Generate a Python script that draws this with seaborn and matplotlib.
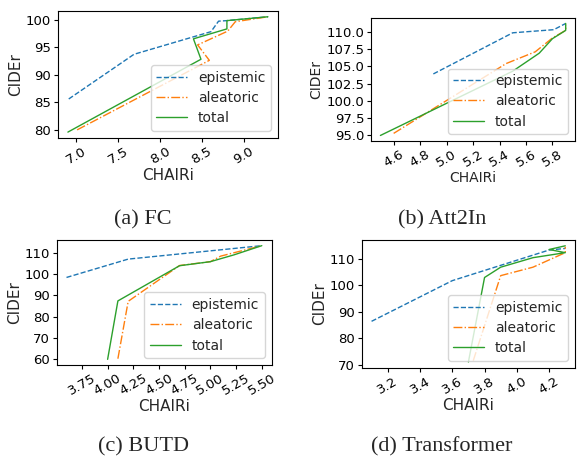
import matplotlib
matplotlib.use('Agg')
import matplotlib.pyplot as plt
from matplotlib.ticker import MultipleLocator, StrMethodFormatter
import seaborn as sns

sns.set_style('ticks')
plt.rcParams['font.family'] = ['DejaVu Sans']

# (a) FC
fc_epi_x = [6.91, 7.69, 8.61, 8.7, 8.8, 9.29]
fc_epi_y = [85.6, 93.7, 97.8, 99.7, 99.8, 100.5]
fc_ale_x = [7.01, 8.59, 8.45, 8.81, 8.9, 9.29]
fc_ale_y = [80.0, 92.6, 95.4, 97.9, 99.6, 100.5]
fc_tot_x = [6.9, 8.49, 8.4, 8.8, 8.8, 9.29]
fc_tot_y = [79.6, 92.8, 96.5, 98.3, 99.8, 100.5]

# (b) Att2In
at_epi_x = [4.9, 5.5, 5.81, 5.9]
at_epi_y = [103.9, 109.85, 110.3, 111.2]
at_ale_x = [4.6, 5.45, 5.67, 5.8, 5.9, 5.9]
at_ale_y = [95.3, 105.4, 107.1, 109.1, 110.2, 111.0]
at_tot_x = [4.5, 5.5, 5.7, 5.8, 5.9, 5.9]
at_tot_y = [95.0, 104.3, 106.9, 109.0, 110.2, 111.2]

# (c) BUTD
bu_epi_x = [3.6, 4.2, 5.5]
bu_epi_y = [98.4, 107.0, 113.3]
bu_ale_x = [4.1, 4.2, 4.7, 5.0, 5.1, 5.5]
bu_ale_y = [60.3, 87.2, 104.0, 105.8, 108.4, 113.3]
bu_tot_x = [4.0, 4.1, 4.7, 5.0, 5.23, 5.5]
bu_tot_y = [60.0, 87.4, 103.9, 105.8, 109.0, 113.3]

# (d) Transformer
tr_epi_x = [3.1, 3.6, 4.2, 4.3]
tr_epi_y = [86.4, 101.8, 113.4, 114.0]
tr_ale_x = [3.73, 3.9, 4.1, 4.3, 4.3]
tr_ale_y = [71.5, 103.7, 106.9, 112.4, 114.6]
tr_tot_x = [3.7, 3.8, 3.9, 4.1, 4.3, 4.2, 4.3]
tr_tot_y = [71.0, 103.0, 106.9, 110.5, 112.4, 113.6, 115.0]

panels = [
    ('(a) FC', [0.100, 0.699, 0.380, 0.277], (143, 220),
     (fc_epi_x, fc_epi_y), (fc_ale_x, fc_ale_y), (fc_tot_x, fc_tot_y),
     0.5, 5, '{x:.1f}', '{x:.0f}', 11),
    ('(b) Att2In', [0.641, 0.692, 0.352, 0.269], (442, 220),
     (at_epi_x, at_epi_y), (at_ale_x, at_ale_y), (at_tot_x, at_tot_y),
     0.2, 2.5, '{x:.1f}', '{x:.1f}', 10),
    ('(c) BUTD', [0.098, 0.203, 0.371, 0.273], (143, 447),
     (bu_epi_x, bu_epi_y), (bu_ale_x, bu_ale_y), (bu_tot_x, bu_tot_y),
     0.25, 10, '{x:.2f}', '{x:.0f}', 11),
    ('(d) Transformer', [0.625, 0.197, 0.368, 0.279], (442, 447),
     (tr_epi_x, tr_epi_y), (tr_ale_x, tr_ale_y), (tr_tot_x, tr_tot_y),
     0.2, 10, '{x:.1f}', '{x:.0f}', 11),
]

fig = plt.figure(figsize=(5.79, 4.58), dpi=100)

for caption, rect, cpos, epi, ale, tot, xstep, ystep, xfmt, yfmt, lsize in panels:
    ax = fig.add_axes(rect)
    sns.lineplot(x=epi[0], y=epi[1], ax=ax, sort=False, estimator=None, color='#1f77b4',
                 linestyle='--', lw=1, label='epistemic')
    sns.lineplot(x=ale[0], y=ale[1], ax=ax, sort=False, estimator=None, color='#ff7f0e',
                 linestyle='-.', lw=1, label='aleatoric')
    sns.lineplot(x=tot[0], y=tot[1], ax=ax, sort=False, estimator=None, color='#2ca02c',
                 linestyle='-', lw=1, label='total')
    ax.xaxis.set_major_locator(MultipleLocator(xstep))
    ax.yaxis.set_major_locator(MultipleLocator(ystep))
    ax.xaxis.set_major_formatter(StrMethodFormatter(xfmt))
    ax.yaxis.set_major_formatter(StrMethodFormatter(yfmt))
    ax.set_xlabel('CHAIRi', fontsize=lsize, labelpad=1)
    ax.set_ylabel('CIDEr', fontsize=lsize, labelpad=2)
    ax.tick_params(labelsize=9.5, pad=2, length=3, colors='black')
    plt.setp(ax.get_xticklabels(), rotation=30)
    for s in ax.spines.values():
        s.set_color('black')
    ax.legend(loc='lower right', fontsize=10, handlelength=2.2, borderpad=0.4,
              labelspacing=0.45)
    fig.text(cpos[0] / 579, 1 - cpos[1] / 458, caption, ha='center', va='center',
             fontsize=16, family='Liberation Serif')

fig.savefig('out.png', dpi=100)
